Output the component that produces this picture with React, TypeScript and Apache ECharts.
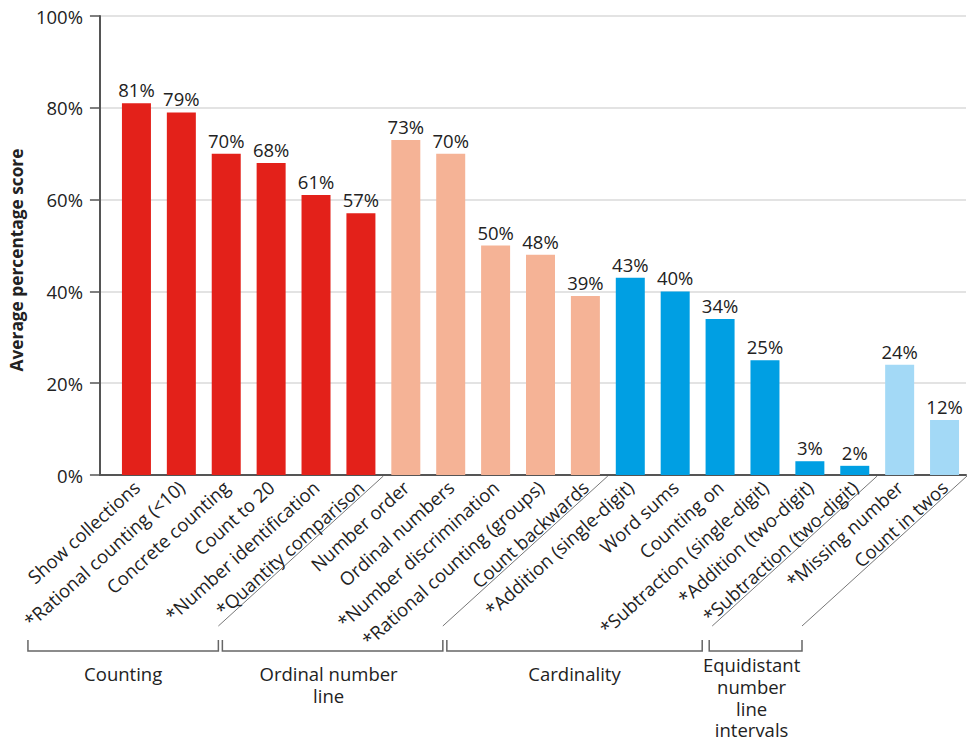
import React, { useEffect, useRef } from "react";
import * as echarts from "echarts";

// ---------- data ----------
const categories = [
  "Show collections",
  "*Rational counting (<10)",
  "Concrete counting",
  "Count to 20",
  "*Number identification",
  "*Quantity comparison",
  "Number order",
  "Ordinal numbers",
  "*Number discrimination",
  "*Rational counting (groups)",
  "Count backwards",
  "*Addition (single-digit)",
  "Word sums",
  "Counting on",
  "*Subtraction (single-digit)",
  "*Addition (two-digit)",
  "*Subtraction (two-digit)",
  "*Missing number",
  "Count in twos",
];
const scores = [81, 79, 70, 68, 61, 57, 73, 70, 50, 48, 39, 43, 40, 34, 25, 3, 2, 24, 12];
const groupOfCategory = [0, 0, 0, 0, 0, 0, 1, 1, 1, 1, 1, 2, 2, 2, 2, 2, 2, 3, 3];
const groupNames = ["Counting", "Ordinal number\nline", "Cardinality", "Equidistant\nnumber\nline\nintervals"];
const yMin = 0;
const yMax = 100;
const yStep = 20;
const yTitle = "Average percentage score";

// ---------- style ----------
const PALETTE = ["#E3211A", "#F5B396", "#009FE3", "#A3D9F6"];
const FONT = "'Open Sans', 'Noto Sans', sans-serif";
const FS = 18.5;
const TEXT = "#222";
const AXIS = "#555";

export default function App() {
  const ref = useRef<HTMLDivElement>(null);

  useEffect(() => {
    const chart = echarts.init(ref.current!, null, { renderer: "svg" });
    const option: any = {
      animation: false,
      textStyle: { fontFamily: FONT },
      grid: [
        { left: 114, top: 16, width: 855, height: 459 },
        { left: 98, top: 16, width: 868, height: 459 },
      ],
      xAxis: [
        {
          type: "category",
          gridIndex: 0,
          data: categories,
          boundaryGap: true,
          axisLine: { show: false },
          axisTick: { show: false },
          axisLabel: {
            interval: 0,
            rotate: 42,
            margin: 9,
            fontSize: FS,
            color: TEXT,
            fontFamily: FONT,
          },
        },
        {
          type: "value",
          gridIndex: 1,
          min: 0,
          max: 1,
          axisLine: { show: true, lineStyle: { color: AXIS, width: 2 } },
          axisTick: { show: false },
          axisLabel: { show: false },
          splitLine: { show: false },
        },
      ],
      yAxis: [
        {
          type: "value",
          gridIndex: 0,
          min: yMin,
          max: yMax,
          interval: yStep,
          show: false,
        },
        {
          type: "value",
          gridIndex: 1,
          min: yMin,
          max: yMax,
          interval: yStep,
          name: yTitle,
          nameLocation: "middle",
          nameGap: 73,
          nameTextStyle: {
            fontSize: 17.3,
            fontWeight: "bold",
            color: TEXT,
            fontFamily: FONT,
            padding: [0, 29, 0, 0],
          },
          axisLine: { show: true, lineStyle: { color: AXIS, width: 2 } },
          axisTick: { show: true, length: 10, lineStyle: { color: AXIS, width: 1.5 } },
          axisLabel: {
            formatter: "{value}%",
            margin: 17,
            fontSize: FS,
            color: TEXT,
            fontFamily: FONT,
          },
          splitLine: { show: true, lineStyle: { color: "#DADADA", width: 1.5 } },
        },
      ],
      series: [
        {
          type: "bar",
          xAxisIndex: 0,
          yAxisIndex: 0,
          barWidth: 29,
          data: scores.map((v, i) => ({
            value: v,
            itemStyle: { color: PALETTE[groupOfCategory[i]] },
          })),
          label: {
            show: true,
            position: "top",
            distance: 4,
            formatter: "{c}%",
            fontSize: FS,
            color: TEXT,
            fontFamily: FONT,
          },
        },
      ],
    };
    chart.setOption(option);

    // ----- group dividers / brackets computed from the category scale -----
    const px = (i: number) => chart.convertToPixel({ xAxisIndex: 0 }, categories[i]) as number;
    const step = px(1) - px(0);
    const nGroups = groupNames.length;
    const lastIdx: number[] = [];
    const firstIdx: number[] = [];
    for (let g = 0; g < nGroups; g++) {
      firstIdx.push(groupOfCategory.indexOf(g));
      lastIdx.push(groupOfCategory.lastIndexOf(g));
    }
    const DX = 165;
    const Y_TOP = 476;
    const Y_BOT = 626;
    const B_TOP = 640;
    const B_BOT = 651;
    const LINE_STEP = 21.7;
    const graphics: any[] = [];
    const bottoms: number[] = [];
    for (let g = 0; g < nGroups; g++) {
      const xb = px(lastIdx[g]) + step / 2;
      bottoms.push(xb - DX);
      graphics.push({
        type: "line",
        silent: true,
        shape: { x1: xb, y1: Y_TOP, x2: xb - DX, y2: Y_BOT },
        style: { stroke: "#777", lineWidth: 1 },
      });
    }
    const rightTrim = [0, 0, 10, 0];
    for (let g = 0; g < nGroups; g++) {
      const left = g === 0 ? px(firstIdx[0]) - 108.5 : bottoms[g - 1] + (g === 3 ? -3 : 4);
      const right = bottoms[g] - rightTrim[g];
      graphics.push({
        type: "polyline",
        silent: true,
        shape: { points: [[left, B_TOP], [left, B_BOT], [right, B_BOT], [right, B_TOP]] },
        style: { stroke: "#666", lineWidth: 1.5, fill: "none" },
      });
      const nLines = groupNames[g].split("\n").length;
      const firstMid = nLines > 2 ? 664.8 : 673.5;
      const cx = (left + right) / 2 - (nLines > 2 ? 4 : 0) - (g === 1 ? 4 : 0);
      graphics.push({
        type: "text",
        silent: true,
        x: cx,
        y: firstMid - LINE_STEP / 2,
        style: {
          text: groupNames[g],
          fontSize: FS,
          fontFamily: FONT,
          fill: TEXT,
          align: "center",
          verticalAlign: "top",
          lineHeight: LINE_STEP,
        },
      });
    }
    chart.setOption({ graphic: graphics });

    return () => chart.dispose();
  }, []);

  return (
    <div
      ref={ref}
      style={{ position: "absolute", left: 0, top: 0, width: 967, height: 741 }}
    />
  );
}
